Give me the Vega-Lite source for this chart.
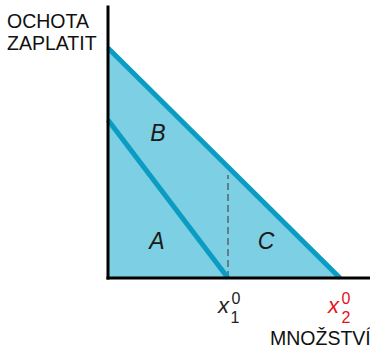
{
  "$schema": "https://vega.github.io/schema/vega-lite/v6.json",
  "width": 262,
  "height": 278,
  "autosize": {"type": "none"},
  "padding": {"left": 108, "top": 0, "right": 0, "bottom": 70},
  "config": {"view": {"stroke": null}, "font": "Liberation Sans"},
  "datasets": {
    "demand": [
      {"q": 0, "p": 230, "curve": "D2"},
      {"q": 232, "p": 0, "curve": "D2"},
      {"q": 0, "p": 158, "curve": "D1"},
      {"q": 120, "p": 0, "curve": "D1"}
    ],
    "axes": [
      {"x": 0, "y": 0, "x2": 0, "y2": 271},
      {"x": 0, "y": 0, "x2": 262, "y2": 0}
    ],
    "dashed": [{"x": 120, "y": 0, "y2": 103}],
    "titles": [
      {"label": "OCHOTA", "x": -101, "y": 250},
      {"label": "ZAPLATIT", "x": -101, "y": 228},
      {"label": "MNOŽSTVÍ", "x": 162, "y": -67}
    ],
    "regions": [
      {"label": "A", "x": 49, "y": 29},
      {"label": "B", "x": 50, "y": 137},
      {"label": "C", "x": 158, "y": 29}
    ],
    "vars": [
      {"label": "x", "x": 115.5, "y": -35, "var": "x1"},
      {"label": "x", "x": 225.5, "y": -35, "var": "x2"}
    ],
    "scripts": [
      {"label": "1", "x": 127, "y": -45, "var": "x1"},
      {"label": "0", "x": 128, "y": -26, "var": "x1"},
      {"label": "2", "x": 238, "y": -45, "var": "x2"},
      {"label": "0", "x": 238, "y": -26, "var": "x2"}
    ]
  },
  "layer": [
    {
      "data": {"name": "demand"},
      "transform": [{"filter": "datum.curve === 'D2'"}],
      "mark": {"type": "area", "color": "#7dcfe3", "opacity": 1},
      "encoding": {
        "x": {"field": "q", "type": "quantitative", "scale": {"domain": [0, 262], "nice": false, "zero": false}, "axis": null},
        "y": {"field": "p", "type": "quantitative", "scale": {"domain": [0, 278], "nice": false, "zero": false}, "axis": null}
      }
    },
    {
      "data": {"name": "dashed"},
      "mark": {"type": "rule", "color": "#555555", "strokeWidth": 1.3, "strokeDash": [7, 4]},
      "encoding": {
        "x": {"field": "x", "type": "quantitative"},
        "y": {"field": "y", "type": "quantitative"},
        "y2": {"field": "y2"}
      }
    },
    {
      "data": {"name": "demand"},
      "mark": {"type": "line", "color": "#0a9cc3", "strokeWidth": 5, "strokeCap": "butt"},
      "encoding": {
        "x": {"field": "q", "type": "quantitative"},
        "y": {"field": "p", "type": "quantitative"},
        "detail": {"field": "curve"}
      }
    },
    {
      "data": {"name": "axes"},
      "mark": {"type": "rule", "color": "#000000", "strokeWidth": 3, "strokeCap": "square"},
      "encoding": {
        "x": {"field": "x", "type": "quantitative"},
        "y": {"field": "y", "type": "quantitative"},
        "x2": {"field": "x2"},
        "y2": {"field": "y2"}
      }
    },
    {
      "data": {"name": "titles"},
      "mark": {"type": "text", "align": "left", "baseline": "alphabetic", "fontSize": 19.5, "color": "#111111"},
      "encoding": {
        "x": {"field": "x", "type": "quantitative"},
        "y": {"field": "y", "type": "quantitative"},
        "text": {"field": "label"}
      }
    },
    {
      "data": {"name": "regions"},
      "mark": {"type": "text", "align": "center", "baseline": "alphabetic", "fontSize": 23, "fontStyle": "italic", "color": "#1a1a1a"},
      "encoding": {
        "x": {"field": "x", "type": "quantitative"},
        "y": {"field": "y", "type": "quantitative"},
        "text": {"field": "label"}
      }
    },
    {
      "data": {"name": "vars"},
      "mark": {"type": "text", "align": "center", "baseline": "alphabetic", "fontSize": 22, "fontStyle": "italic"},
      "encoding": {
        "x": {"field": "x", "type": "quantitative"},
        "y": {"field": "y", "type": "quantitative"},
        "text": {"field": "label"},
        "color": {"field": "var", "type": "nominal", "scale": {"domain": ["x1", "x2"], "range": ["#222222", "#e8101a"]}, "legend": null}
      }
    },
    {
      "data": {"name": "scripts"},
      "mark": {"type": "text", "align": "center", "baseline": "alphabetic", "fontSize": 16},
      "encoding": {
        "x": {"field": "x", "type": "quantitative"},
        "y": {"field": "y", "type": "quantitative"},
        "text": {"field": "label"},
        "color": {"field": "var", "type": "nominal", "scale": {"domain": ["x1", "x2"], "range": ["#222222", "#e8101a"]}, "legend": null}
      }
    }
  ]
}
